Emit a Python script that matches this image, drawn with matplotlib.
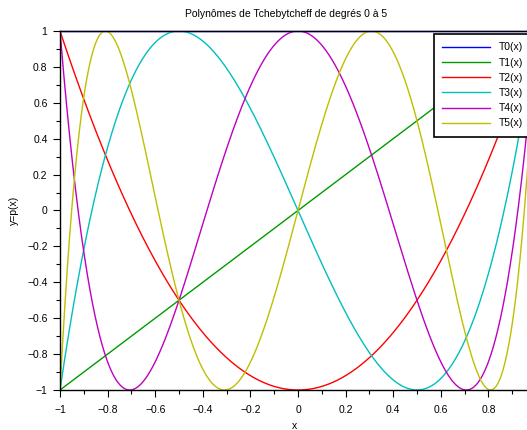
import matplotlib
matplotlib.use("Agg")
import matplotlib.pyplot as plt
import numpy as np
from matplotlib.ticker import MultipleLocator, FuncFormatter

plt.rcParams['font.family'] = ['Liberation Sans', 'DejaVu Sans']

# Chebyshev polynomials T0..T5, power-basis coefficients (lowest degree first)
labels = ["T0(x)", "T1(x)", "T2(x)", "T3(x)", "T4(x)", "T5(x)"]
coef_T0 = [1]
coef_T1 = [0, 1]
coef_T2 = [-1, 0, 2]
coef_T3 = [0, -3, 0, 4]
coef_T4 = [1, 0, -8, 0, 8]
coef_T5 = [0, 5, 0, -20, 0, 16]
coefs = [coef_T0, coef_T1, coef_T2, coef_T3, coef_T4, coef_T5]
colors = ["#0000ff", "#009a00", "#ff0000", "#00bfbf", "#bf00bf", "#bfbf00"]

x = np.linspace(-1, 1, 801)

fig = plt.figure(figsize=(5.27, 4.30), dpi=100)
ax = fig.add_axes([60/527, 40/430, 476/527, 359/430])

for c, lab, col in zip(coefs, labels, colors):
    y = np.polynomial.polynomial.polyval(x, c)
    ax.plot(x, y, color=col, lw=1.0, label=lab, clip_on=False if lab == "T0(x)" else True)

ax.set_xlim(-1, 1)
ax.set_ylim(-1, 1)

ax.xaxis.set_major_locator(MultipleLocator(0.2))
ax.xaxis.set_minor_locator(MultipleLocator(0.1))
ax.yaxis.set_major_locator(MultipleLocator(0.2))
ax.yaxis.set_minor_locator(MultipleLocator(0.1))

def fmt(v, pos):
    if abs(v) < 1e-9:
        return "0"
    s = "%g" % round(v, 1)
    return s.replace("-", "\u2212")

def fmt_x(v, pos):
    # the x = 1 label falls outside the picture
    if v > 0.95:
        return ""
    return fmt(v, pos)

ax.xaxis.set_major_formatter(FuncFormatter(fmt_x))
ax.yaxis.set_major_formatter(FuncFormatter(fmt))

ax.tick_params(which='major', direction='out', length=5, width=0.8, labelsize=7.5, color='black')
ax.tick_params(which='minor', direction='out', length=3, width=0.8, color='black')
ax.tick_params(axis='x', pad=6)
ax.tick_params(axis='y', pad=4)

for sp in ['left', 'bottom', 'top']:
    ax.spines[sp].set_linewidth(1.0)
ax.spines['right'].set_visible(False)

fig.text(286/527, 1 - 14/430, "Polynômes de Tchebytcheff de degrés 0 à 5",
         ha='center', va='center', fontsize=7.5)
fig.text(294/527, 1 - 426/430, "x", ha='center', va='center', fontsize=7.5)
fig.text(14/527, 1 - 210/430, "y=p(x)", ha='center', va='center', fontsize=7.5, rotation=90)

leg = ax.legend(loc='upper left', bbox_to_anchor=((434 - 60)/476, 1 - (34 - 31)/359),
                fontsize=7.5, handlelength=4.6, handletextpad=0.8, labelspacing=0.5,
                borderaxespad=0, borderpad=0.8, fancybox=False, framealpha=1,
                edgecolor='black')
leg.get_frame().set_linewidth(1.2)

fig.savefig("out.png", dpi=100)
